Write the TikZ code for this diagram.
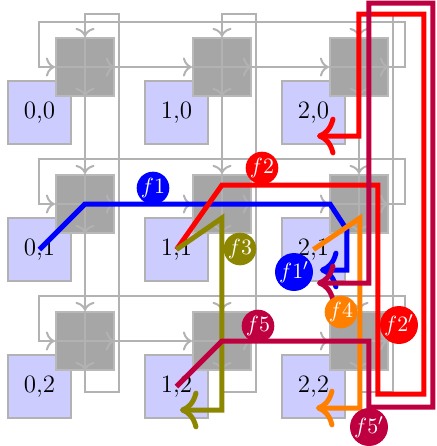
\documentclass[tikz,border=0pt]{standalone}
\usetikzlibrary{arrows.meta}
\begin{document}
\begin{tikzpicture}[x=0.5pt,y=-0.5pt,
  pe/.style={draw=gray!60, line width=1pt, fill=blue!20, minimum size=31.5pt, inner sep=0pt, font=\fontsize{12.5}{14}\selectfont},
  router/.style={draw=gray!55, line width=1pt, fill=gray!70, minimum size=29pt, inner sep=0pt},
  link/.style={draw=gray!60, line width=1pt, -{To[scale=1.2]}},
  flow/.style={line width=2.5pt, -{To[scale=1.3]}},
  tag/.style={circle, inner sep=0.3pt, text=white, font=\fontsize{10.8}{12}\selectfont}]
\useasboundingbox (0,0) rectangle (436,446);
% processing elements
\foreach \i in {0,1,2} \foreach \j in {0,1,2} {
  \node[pe] (P-\i-\j) at (85+137*\i-45.5, 67+137*\j+45.5) {\i,\j};
}
% routers
\foreach \i in {0,1,2} \foreach \j in {0,1,2} {
  \node[router] (R-\i-\j) at (85+137*\i, 67+137*\j) {};
}
% links through routers
\foreach \i in {0,1,2} \foreach \j in {0,1,2} {
  \draw[link] (R-\i-\j.west) -- (R-\i-\j.east);
  \draw[link] (R-\i-\j.north) -- (R-\i-\j.south);
}
% horizontal links
\foreach \j in {0,1,2} {
  \draw[link] (R-0-\j.east) -- (R-1-\j.west);
  \draw[link] (R-1-\j.east) -- (R-2-\j.west);
  \draw[link] (R-2-\j.east) -- ++(16,0) -- ++(0,-45) -- ++(-366,0) -- ++(0,45) -- (R-0-\j.west);
}
% vertical links
\foreach \i in {0,1,2} {
  \draw[link] (R-\i-0.south) -- (R-\i-1.north);
  \draw[link] (R-\i-1.south) -- (R-\i-2.north);
  \draw[link] (R-\i-2.south) -- ++(0,21) -- ++(34,0) -- ++(0,-378) -- ++(-34,0) -- (R-\i-0.north);
}
% flows
\coordinate (E1) at (320,270);
\coordinate (E2) at (317,136);
\coordinate (E3) at (180,410);
\coordinate (E4) at (316,408);
\coordinate (E5) at (317,283);
\draw[flow, blue] (P-0-1.center) -- (R-0-1.center) -- (330,204) -- (347,230) -- (347,270) -- (E1);
\draw[flow, red] (P-1-1.center) -- (222,185) -- (378,185) -- (378,394) -- (424,394) -- (424,14) -- (359,14) -- (359,136) -- (E2);
\draw[flow, olive] (P-1-1.center) -- (222,218) -- (222,410) -- (E3);
\draw[flow, orange] (P-2-1.center) -- (360,218) -- (360,408) -- (E4);
\draw[flow, purple] (P-1-2.center) -- (R-1-2.center) -- (369,341) -- (369,407) -- (433,407) -- (433,3) -- (369,3) -- (369,283) -- (E5);
% labels
\node[tag, fill=blue] (L1) at (153,188) {$f1$};
\node[tag, fill=red] (L2) at (262,168) {$f2$};
\node[tag, fill=olive] (L3) at (240,249) {$f3$};
\node[tag, fill=blue] (L1p) at (294,272) {$f1'$};
\node[tag, fill=orange] (L4) at (341,312) {$f4$};
\node[tag, fill=red] (L2p) at (399,325) {$f2'$};
\node[tag, fill=purple] (L5) at (258,326) {$f5$};
\node[tag, fill=purple] (L5p) at (369,427) {$f5'$};
\end{tikzpicture}
\end{document}
